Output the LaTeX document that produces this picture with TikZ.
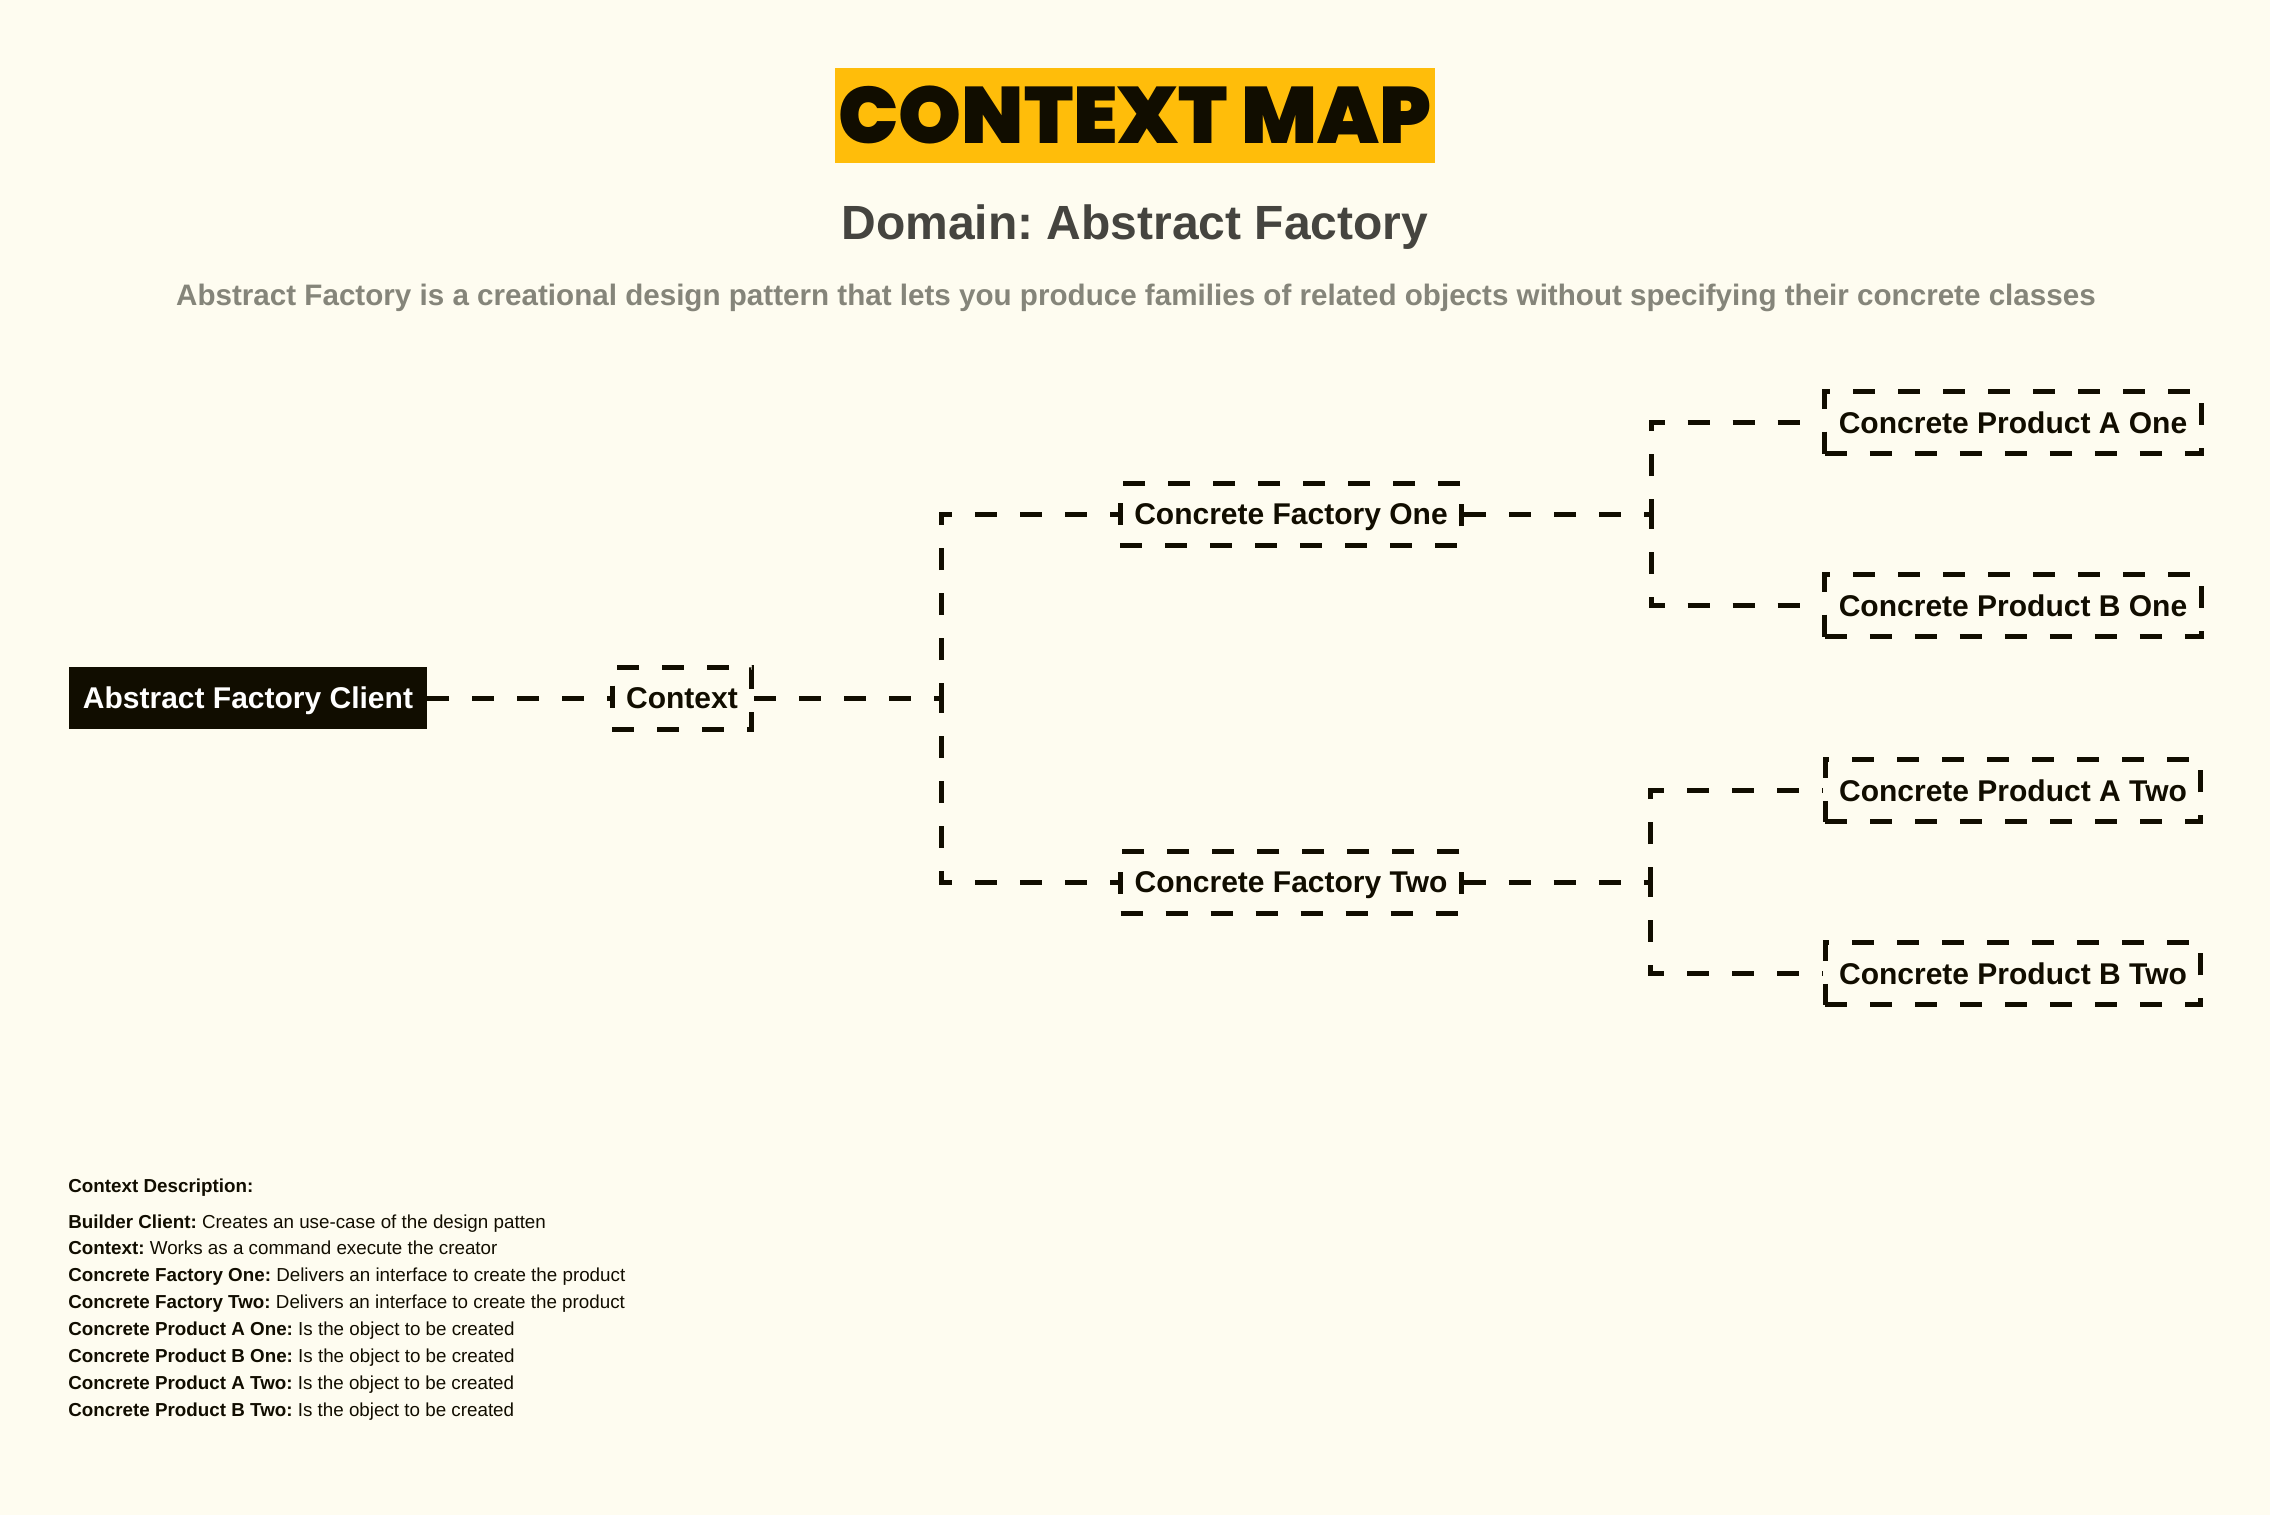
\documentclass[tikz,border=0pt]{standalone}
\usepackage{fontspec}
\setmainfont{Liberation Sans}
\newfontfamily\titlefont{Poppins Black}
\frenchspacing
\usepackage{tikz}
\usetikzlibrary{arrows,positioning}

\definecolor{paper}{HTML}{FEFCF0}
\definecolor{banner}{HTML}{FFBD0A}
\definecolor{ink}{HTML}{110D00}
\definecolor{domaingray}{HTML}{45443F}
\definecolor{leadgray}{HTML}{85857A}

\tikzset{
  connector/.style={draw=ink, line width=2.5pt, dash pattern=on 11pt off 11.5pt},
  part/.style={connector, fill=paper, text=ink, font=\fontsize{15}{18}\selectfont\bfseries,
    minimum height=31pt, inner xsep=7pt, inner ysep=0pt, text height=10.8pt, text depth=0pt},
  client/.style={fill=ink, text=white, font=\fontsize{15}{18}\selectfont\bfseries,
    minimum height=31pt, inner xsep=7pt, inner ysep=0pt, text height=10.8pt, text depth=0pt},
  elbow/.style={edge from parent path={(\tikzparentnode.east) -- ++(93.5pt,0) |- (\tikzchildnode.west)}}
}

\begin{document}
\begin{tikzpicture}[x=0.5pt, y=-0.5pt,
    edge from parent/.style={connector},
    grow'=right,
    level 1/.style={level distance=217pt},
    level 2/.style={level distance=304.5pt, sibling distance=184pt, elbow},
    level 3/.style={level distance=361pt, sibling distance=91.5pt, elbow}]
  \fill[paper] (0,0) rectangle (2270,1515);
  \useasboundingbox (0,0) rectangle (2270,1515);

  % heading
  \node[fill=banner, text=ink, minimum width=300pt, minimum height=47.5pt, inner sep=0pt,
        font=\titlefont\fontsize{40}{42}\selectfont] (title) at (1135,115) {CONTEXT MAP};
  \node[text=domaingray, font=\fontsize{24}{27}\selectfont\bfseries] (domain) at (1135,227) {Domain: Abstract Factory};
  \node[text=leadgray, font=\fontsize{14.8}{17}\selectfont\bfseries] (lead) at (1136,298)
    {Abstract Factory is a creational design pattern that lets you produce families of related objects without specifying their concrete classes};

  % context map
  \node[client] (client) at (248,698) {Abstract Factory Client}
    child {node[part] (context) {Context}
      child {node[part] (factory_one) {Concrete Factory One}
        child {node[part] (product_a_one) {Concrete Product A One}}
        child {node[part] (product_b_one) {Concrete Product B One}}
      }
      child {node[part] (factory_two) {Concrete Factory Two}
        child {node[part] (product_a_two) {Concrete Product A Two}}
        child {node[part] (product_b_two) {Concrete Product B Two}}
      }
    };

  % description
  \node[anchor=base west, inner sep=0pt, text=ink, font=\fontsize{9.4}{11}\selectfont\bfseries] (desc_head) at (68,1192) {Context Description:};
  \foreach \key/\val [count=\i] in {
      Builder Client/Creates an use-case of the design patten,
      Context/Works as a command execute the creator,
      Concrete Factory One/Delivers an interface to create the product,
      Concrete Factory Two/Delivers an interface to create the product,
      Concrete Product A One/Is the object to be created,
      Concrete Product B One/Is the object to be created,
      Concrete Product A Two/Is the object to be created,
      Concrete Product B Two/Is the object to be created}
    \node[anchor=base west, inner sep=0pt, text=ink, font=\fontsize{9.4}{11}\selectfont] (desc_\i) at (68,{1228+26.9*(\i-1)}) {\textbf{\key:} \val};
\end{tikzpicture}
\end{document}
